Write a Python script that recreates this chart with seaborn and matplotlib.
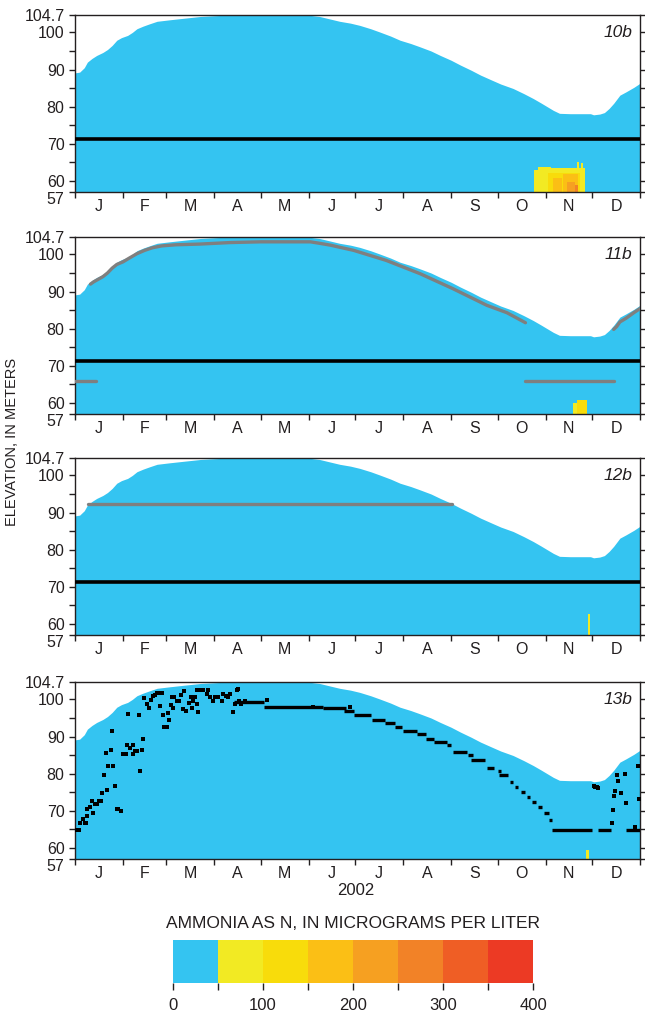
import numpy as np
import pandas as pd
import matplotlib
matplotlib.use("Agg")
import matplotlib.pyplot as plt
from matplotlib.colors import ListedColormap, BoundaryNorm
from matplotlib.cm import ScalarMappable
import seaborn as sns

# ---------------- data ----------------
month_labels = ["J", "F", "M", "A", "M", "J", "J", "A", "S", "O", "N", "D"]
month_start = [0, 31, 59, 90, 120, 151, 181, 212, 243, 273, 304, 334, 365]
panel_names = ["10b", "11b", "12b", "13b"]
ytick_values = [57, 60, 70, 80, 90, 100, 104.7]
ytick_labels = ["57", "60", "70", "80", "90", "100", "104.7"]

# reservoir water-surface elevation (day of year, meters)
surface_day = [0, 3, 6, 8, 11, 14, 18, 21, 24, 27, 30, 34, 37, 40, 44, 48, 53, 61, 72,
               81, 90, 100, 150, 158, 165, 171, 178, 184, 191, 197, 204, 210, 217, 223,
               230, 236, 243, 249, 256, 262, 269, 275, 283, 290, 296, 301, 305, 309, 313,
               320, 333, 335, 339, 342, 345, 348, 352, 356, 361, 365]
surface_elev = [89.1, 89.3, 90.5, 92.0, 93.0, 93.8, 94.6, 95.4, 96.5, 97.9, 98.6, 99.2,
                100.0, 101.0, 101.7, 102.3, 103.0, 103.4, 103.9, 104.3, 104.5, 104.7, 104.7,
                104.3, 103.6, 103.0, 102.5, 101.9, 101.0, 100.1, 99.0, 97.9, 97.0, 96.1,
                95.0, 93.8, 92.5, 91.2, 89.8, 88.5, 87.2, 86.1, 84.9, 83.5, 82.2, 81.0,
                80.0, 79.0, 78.2, 78.1, 78.1, 77.8, 78.0, 78.4, 79.5, 80.9, 83.1, 84.0,
                85.2, 86.3]

boundary_elev = 71.3

conc_bounds = [0, 50, 100, 150, 200, 250, 300, 350, 400]
conc_colors = ["#34C4F1", "#F2EA23", "#F8DC0B", "#FBBF15", "#F6A021",
               "#F28227", "#EF5E25", "#EC3A24"]

# concentration cells: start day, end day, top elevation (bottom = 57), concentration
p10_start = [296.7, 299.3, 307.5, 324.0, 326.9, 305.8, 309.0, 315.4, 317.6, 323.0]
p10_end = [299.3, 307.5, 329.5, 325.6, 328.4, 326.2, 314.4, 325.1, 323.0, 325.0]
p10_top = [63.0, 63.8, 63.4, 65.0, 64.8, 62.0, 60.7, 61.8, 59.8, 59.0]
p10_conc = [75, 75, 75, 75, 75, 125, 175, 175, 225, 275]

p11_start = [321.5, 324.0]
p11_end = [324.0, 331.0]
p11_top = [60.0, 60.9]
p11_conc = [75, 125]

p12_start = [331.6]
p12_end = [332.4]
p12_top = [62.6]
p12_conc = [75]

p13_start = [330.0]
p13_end = [332.3]
p13_top = [59.4]
p13_conc = [75]

# 11b gray lines (segments)
g11a_day = [10, 12, 15, 18, 21, 24, 27, 31, 35, 40, 45, 50, 56, 65, 81, 100, 120, 152,
            158, 165, 180, 201, 223, 244, 266, 279, 291]
g11a_elev = [92.0, 92.6, 93.3, 94.0, 95.0, 96.3, 97.3, 98.0, 99.0, 100.2, 101.1, 101.8,
             102.3, 102.6, 102.8, 103.2, 103.4, 103.4, 103.0, 102.5, 101.1, 98.4, 94.8,
             90.8, 86.3, 84.3, 81.6]
g11b_day = [348, 350, 352, 356, 361, 365]
g11b_elev = [79.8, 80.6, 81.8, 82.8, 84.3, 85.4]
g11c_day = [0, 13.5]
g11c_elev = [65.9, 65.9]
g11d_day = [291, 348]
g11d_elev = [66.0, 66.0]

# 12b gray line
g12_day = [8.4, 243.5]
g12_elev = [92.3, 92.3]

# 13b individual points
dot_day = [0.9, 2.6, 3.4, 5.4, 6.3, 7.1, 8.0, 8.0, 9.7, 11.4, 10.8, 13.0, 14.4, 15.3,
           16.6, 17.5, 18.7, 20.0, 20.5, 21.5, 23.0, 23.7, 24.8, 25.6, 27.0, 28.0, 29.5,
           30.8, 33.0, 33.4, 34.5, 35.6, 37.7, 37.3, 38.8, 39.9, 41.6, 42.1, 43.1, 43.8,
           44.7, 46.4, 47.9, 49.0, 50.3, 51.8, 52.9, 55.0, 56.1, 55.0, 56.7, 57.5, 59.3,
           59.9, 60.8, 61.8, 62.7, 64.0, 63.6, 65.7, 67.4, 68.3, 69.6, 70.4, 71.7, 73.9,
           74.7, 75.4, 76.0, 77.6, 79.1, 79.7, 78.6, 80.8, 83.0, 86.1, 85.1, 87.2, 88.9,
           90.4, 92.6, 94.7, 95.8, 97.5, 99.0, 100.1, 102.3, 103.3, 104.9, 105.5, 106.2,
           107.1, 110.0, 123.8, 153.7, 177.6,
           335, 336, 337, 338, 346.6, 347.5, 348, 349, 350, 351, 353, 355, 356, 362,
           364, 364.5]
dot_elev = [64.8, 64.8, 66.6, 67.7, 66.6, 66.6, 68.7, 70.6, 71.1, 69.5, 72.7, 71.8, 71.8,
            72.7, 72.7, 74.7, 79.6, 85.6, 75.7, 82.0, 86.3, 91.5, 82.0, 76.6, 70.6, 70.4,
            70.0, 85.4, 85.4, 87.6, 96.0, 87.0, 85.2, 87.6, 86.1, 86.1, 95.7, 80.7, 86.5,
            89.4, 100.4, 98.8, 97.8, 99.9, 100.8, 101.3, 101.7, 101.7, 101.7, 98.1, 95.7,
            92.7, 92.7, 96.4, 94.4, 98.6, 100.6, 100.6, 97.7, 99.6, 99.6, 101.3, 97.5,
            102.4, 97.0, 99.1, 100.6, 97.8, 99.6, 100.6, 98.7, 96.6, 102.6, 102.6, 102.6,
            102.6, 101.5, 100.6, 99.6, 100.6, 100.6, 99.6, 101.5, 100.8, 100.6, 101.5,
            96.6, 98.7, 102.6, 102.8, 99.6, 98.8, 99.6, 99.8, 97.9, 97.9,
            76.6, 76.5, 76.3, 76.1, 66.6, 70.2, 74.0, 75.4, 79.6, 78.1, 74.8, 79.9, 72.2,
            65.7, 82.0, 73.1]

# 13b runs of consecutive daily points at one level
run_start = [103, 122, 160, 174, 180, 192, 200, 207, 212, 221, 227, 232, 240, 244, 254,
             256, 266, 273, 274, 281, 284, 288, 292, 295, 299, 303, 306, 308, 338, 356]
run_end = [122, 160, 175, 180, 191, 200, 207, 211, 221, 227, 232, 240, 243, 253, 257,
           265, 271, 275, 280, 283, 286, 291, 294, 298, 302, 306, 308, 334, 346, 365]
run_elev = [99.2, 98.0, 97.8, 97.0, 95.7, 94.4, 93.6, 92.6, 91.5, 90.6, 89.4, 88.5, 87.6,
            85.9, 85.0, 83.6, 81.6, 80.7, 79.6, 77.8, 76.5, 75.1, 73.8, 72.4, 70.9, 69.3,
            67.5, 64.8, 64.8, 64.8]

# ---------------- style ----------------
sns.set_theme(style="ticks")
plt.rcParams["font.family"] = ["Liberation Sans Narrow", "Liberation Sans", "DejaVu Sans"]
ink = "#231F20"
plt.rcParams.update({
    "axes.edgecolor": ink, "axes.linewidth": 1.0,
    "xtick.color": ink, "ytick.color": ink,
    "text.color": ink, "axes.labelcolor": ink,
})

cmap = ListedColormap(conc_colors)
norm = BoundaryNorm(conc_bounds, cmap.N)
water = conc_colors[0]

fig = plt.figure(figsize=(6.45, 10.22), dpi=100)
W, H = 645, 1022
left, right = 75, 640
panel_tops = [15, 237, 458, 682]
panel_h = 177

patches = {
    "10b": (p10_start, p10_end, p10_top, p10_conc),
    "11b": (p11_start, p11_end, p11_top, p11_conc),
    "12b": (p12_start, p12_end, p12_top, p12_conc),
    "13b": (p13_start, p13_end, p13_top, p13_conc),
}

month_mid = [(a + b) / 2 for a, b in zip(month_start[:-1], month_start[1:])]

axes = []
for name, top in zip(panel_names, panel_tops):
    ax = fig.add_axes([left / W, 1 - (top + panel_h) / H, (right - left) / W, panel_h / H])
    axes.append(ax)
    ax.set_xlim(0, 365)
    ax.set_ylim(57, 104.7)
    ax.fill_between(surface_day, 57, surface_elev, color=water, linewidth=0, zorder=1)

    s, e, t, c = patches[name]
    cols = [cmap(norm(v)) for v in c]
    ax.bar(s, [tt - 57 for tt in t], width=[ee - ss for ss, ee in zip(s, e)], bottom=57,
           align="edge", color=cols, linewidth=0, zorder=2)

    if name != "13b":
        ax.axhline(boundary_elev, color="black", lw=2.6, zorder=4)

    if name == "11b":
        gdf = pd.DataFrame({
            "day": g11a_day + g11b_day + g11c_day + g11d_day,
            "elev": g11a_elev + g11b_elev + g11c_elev + g11d_elev,
            "seg": (["a"] * len(g11a_day) + ["b"] * len(g11b_day)
                    + ["c"] * len(g11c_day) + ["d"] * len(g11d_day)),
        })
        sns.lineplot(data=gdf, x="day", y="elev", units="seg", estimator=None,
                     color="#7F7F7F", lw=2.4, sort=False, ax=ax, zorder=5)
    if name == "12b":
        sns.lineplot(x=g12_day, y=g12_elev, color="#7F7F7F", lw=2.4, ax=ax, zorder=5)
    if name == "13b":
        ax.hlines(run_elev, run_start, run_end, color="black", lw=2.4, zorder=5)
        sns.scatterplot(x=dot_day, y=dot_elev, marker="s", s=6, color="black",
                        linewidth=0, ax=ax, zorder=6)

    ax.set_xlabel("")
    ax.set_ylabel("")
    ax.set_xticks(month_mid)
    ax.set_xticklabels(month_labels, fontsize=11.5)
    ax.set_xticks(month_start, minor=True)
    ax.tick_params(axis="x", which="major", length=0, pad=5)
    ax.tick_params(axis="x", which="minor", length=4.5, width=1.0, direction="out",
                   bottom=True, top=False)
    ax.set_yticks(ytick_values)
    ax.set_yticklabels(ytick_labels, fontsize=11.5)
    ax.set_yticks([65, 75, 85, 95], minor=True)
    ax.tick_params(axis="y", which="both", length=4.5, width=1.0, direction="out",
                   left=True, right=True, labelright=False, pad=3)
    ax.yaxis.get_major_ticks()[0].label1.set_verticalalignment("top")
    for sp in ax.spines.values():
        sp.set_visible(True)
        sp.set_linewidth(1.0)
    ax.text(0.986, 0.944, name, transform=ax.transAxes, ha="right", va="top",
            fontsize=12.5, style="italic", zorder=10)

fig.text(12 / W, 1 - 442 / H, "ELEVATION, IN METERS", rotation=90, ha="center",
         va="center", fontsize=10.5)
fig.text(356 / W, 1 - 890 / H, "2002", ha="center", va="center", fontsize=12)

# colorbar
cax = fig.add_axes([173 / W, 1 - 983 / H, 360 / W, 43 / H])
cb = fig.colorbar(ScalarMappable(norm=norm, cmap=cmap), cax=cax, orientation="horizontal",
                  ticks=[0, 100, 200, 300, 400])
cb.outline.set_visible(False)
cax.set_xticks([50, 150, 250, 350], minor=True)
cax.tick_params(axis="x", which="both", length=5, width=1.0, color=ink, labelsize=12,
                pad=6)
cax.set_xticklabels(["0", "100", "200", "300", "400"])
fig.text(353 / W, 1 - 923 / H, "AMMONIA AS N, IN MICROGRAMS PER LITER", ha="center",
         va="center", fontsize=12.5)

fig.savefig("out.png", dpi=100)
